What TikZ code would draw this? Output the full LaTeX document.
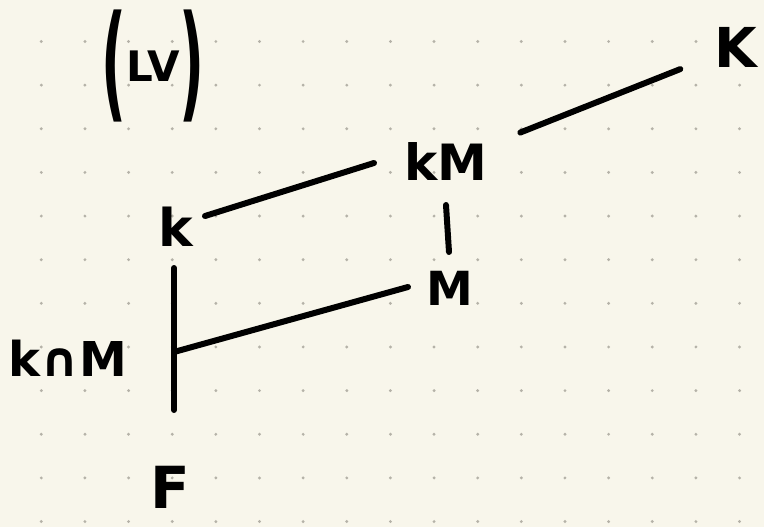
\documentclass[tikz,border=0pt]{standalone}
\usepackage{fontspec}
\usepackage{graphicx}
\setmainfont{DejaVu Sans}
\definecolor{paper}{HTML}{F8F6EB}
\definecolor{dotc}{HTML}{B5B2A8}
\newcommand{\fsz}[1]{\fontsize{#1}{#1}\selectfont\bfseries}
\begin{document}
\begin{tikzpicture}[x=1pt,y=-1pt,
  ink/.style={line width=6pt, line cap=round, black},
  lbl/.style={inner sep=0pt, text=black}]
% dotted notebook paper
\fill[paper] (0,0) rectangle (764,527);
\useasboundingbox (0,0) rectangle (764,527);
\foreach \i in {0,...,16}
  \foreach \j in {0,...,11}
    \fill[dotc] (41.3+43.64*\i, 41.5+43.64*\j) circle[radius=1.6pt];

% case label
\node[lbl, anchor=base] (case) at (153,82)
  {\fsz{42}\raisebox{-24pt}{\scalebox{1.3}[3]{(}}LV\raisebox{-24pt}{\scalebox{1.3}[3]{)}}};

% fields
\node[lbl, font=\fsz{55}] (K)  at (736,47)  {K};
\node[lbl, font=\fsz{50}] (kM) at (446,162) {kM};
\node[lbl, font=\fsz{52}] (k)  at (176,227) {k};
\node[lbl, font=\fsz{47}] (M)  at (450,288) {M};
\node[lbl, font=\fsz{48}] (kcM) at (68,358) {k∩M};
\node[lbl, font=\fsz{58}] (F)  at (170,487) {F};
\coordinate (j) at (174,352);

% inclusions
\draw[ink, shorten <=80pt, shorten >=60pt] (kM.center) -- (K.center);
\draw[ink] ([shift={(29,-11)}]k.center) -- ([shift={(-72,1)}]kM.center);
\draw[ink] ([shift={(0,43)}]kM.center) -- ([shift={(-1,-36)}]M.center);
\draw[ink] (j) -- ([shift={(-42,-1)}]M.center);
\draw[ink, shorten <=41pt, shorten >=77pt] (k.center -| j) -- (F.center -| j);
\end{tikzpicture}
\end{document}
